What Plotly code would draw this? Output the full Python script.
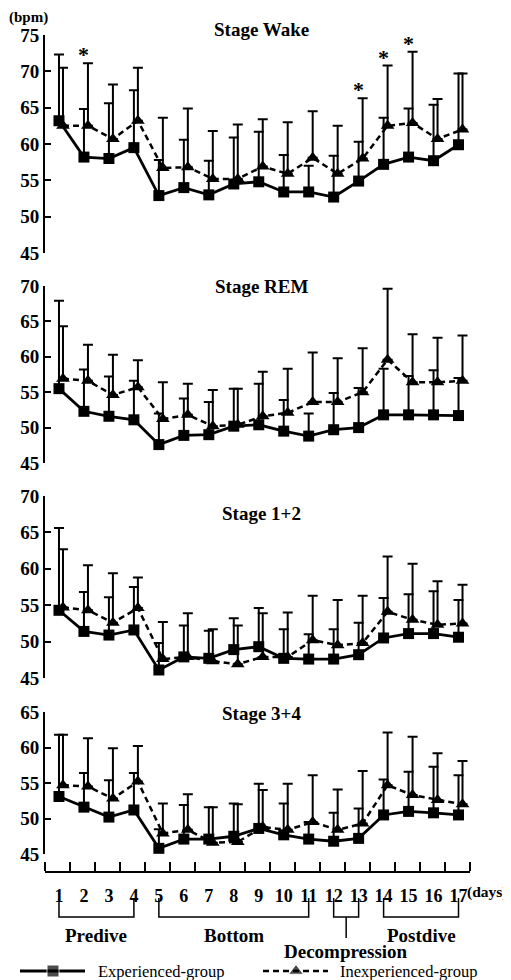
import plotly.graph_objects as go

# ---------------- data ----------------
days = list(range(1, 18))
stage_titles = ["Stage Wake", "Stage REM", "Stage 1+2", "Stage 3+4"]

wake_exp = [63.2, 58.2, 58.0, 59.5, 52.9, 54.0, 53.0, 54.5, 54.8, 53.4, 53.4, 52.7, 54.9, 57.2, 58.2, 57.7, 59.9]
wake_exp_top = [72.3, 64.8, 65.6, 67.4, 57.8, 60.6, 57.7, 60.9, 61.7, 58.5, 57.0, 58.4, 60.3, 63.6, 64.9, 65.4, 69.7]
wake_inexp = [62.5, 62.5, 60.7, 63.2, 56.7, 56.8, 55.2, 55.2, 56.9, 55.9, 58.1, 55.9, 58.0, 62.5, 62.9, 60.7, 62.0]
wake_inexp_top = [70.5, 71.1, 68.2, 70.5, 63.6, 64.9, 61.8, 62.7, 63.4, 63.0, 64.5, 62.5, 66.3, 70.8, 72.7, 66.2, 69.7]

rem_exp = [55.5, 52.3, 51.6, 51.1, 47.6, 48.9, 49.0, 50.2, 50.4, 49.5, 48.8, 49.7, 50.0, 51.8, 51.8, 51.8, 51.7]
rem_exp_top = [67.9, 58.2, 57.2, 56.6, 52.0, 54.1, 53.6, 55.5, 56.2, 53.9, 52.0, 54.9, 55.6, 58.3, 57.3, 58.1, 57.0]
rem_inexp = [56.9, 56.6, 54.6, 55.7, 51.2, 51.8, 50.2, 50.4, 51.6, 52.1, 53.6, 53.6, 55.0, 59.6, 56.4, 56.4, 56.6]
rem_inexp_top = [64.3, 61.7, 60.3, 59.5, 56.4, 56.2, 55.3, 55.5, 57.9, 58.3, 60.6, 59.8, 61.2, 69.6, 63.2, 62.7, 63.0]

s12_exp = [54.3, 51.4, 50.9, 51.6, 46.1, 47.9, 47.7, 48.9, 49.3, 47.7, 47.6, 47.6, 48.2, 50.5, 51.1, 51.1, 50.6]
s12_exp_top = [65.6, 56.8, 56.1, 57.5, 49.8, 52.2, 51.5, 53.2, 54.6, 51.7, 51.0, 51.7, 52.6, 56.0, 56.5, 56.9, 55.7]
s12_inexp = [54.7, 54.3, 52.6, 54.6, 47.6, 47.9, 47.3, 46.9, 47.9, 47.9, 50.2, 49.5, 49.8, 54.1, 53.0, 52.3, 52.5]
s12_inexp_top = [62.7, 60.5, 59.4, 58.8, 52.7, 53.9, 51.7, 52.2, 53.9, 54.0, 56.3, 55.7, 56.3, 61.7, 60.7, 58.3, 57.8]

s34_exp = [53.1, 51.6, 50.2, 51.2, 45.8, 47.1, 47.1, 47.5, 48.6, 47.7, 47.1, 46.8, 47.2, 50.5, 51.0, 50.8, 50.5]
s34_exp_top = [61.8, 56.4, 55.4, 56.4, 48.5, 51.9, 51.6, 52.1, 54.9, 52.1, 49.5, 50.8, 51.4, 55.5, 56.6, 57.3, 56.1]
s34_inexp = [54.7, 54.5, 52.8, 55.2, 47.9, 48.4, 46.6, 46.7, 48.8, 48.4, 49.5, 48.4, 49.3, 54.7, 53.3, 52.6, 52.0]
s34_inexp_top = [61.8, 61.3, 59.9, 60.2, 52.1, 53.4, 51.6, 52.0, 54.0, 54.9, 56.1, 54.1, 56.7, 62.1, 61.5, 59.2, 58.1]

y_ranges = [(45, 75), (45, 70), (45, 70), (45, 65)]
sig_days_wake = [2, 13, 14, 15]

phase_names = ["Predive", "Bottom", "Decompression", "Postdive"]
phase_start = [1, 5, 12, 14]
phase_end = [4, 11, 13, 17]

group_names = ["Experienced-group", "Inexperienced-group"]

# ---------------- layout constants ----------------
PAGE_OFF = 8            # default page margin around the plot div
W, H = 511 - PAGE_OFF, 980 - PAGE_OFF
FONT = "Liberation Serif, Times New Roman, serif"


def py(px):
    return 1 - (px - PAGE_OFF) / H


def pxx(px):
    return (px - PAGE_OFF) / W


panel_px = [(35, 253), (286, 463), (496, 678), (712, 854)]
title_py = [30, 287, 513, 713]
x_dom = [pxx(45), pxx(470)]
x_range = [0.44, 17.46]
OFF = 0.16
AXIS_Y_PX = 872

panels = [
    (wake_exp, wake_exp_top, wake_inexp, wake_inexp_top),
    (rem_exp, rem_exp_top, rem_inexp, rem_inexp_top),
    (s12_exp, s12_exp_top, s12_inexp, s12_inexp_top),
    (s34_exp, s34_exp_top, s34_inexp, s34_inexp_top),
]

fig = go.Figure()
annotations = []
shapes = []

for i, (e, et, ie, it) in enumerate(panels):
    n = i + 1
    xa = "x" if n == 1 else f"x{n}"
    ya = "y" if n == 1 else f"y{n}"
    fig.add_trace(go.Scatter(
        x=days, y=e, xaxis=xa, yaxis=ya, mode="lines+markers",
        name=group_names[0],
        line=dict(color="black", width=2.8),
        marker=dict(symbol="square", size=11, color="black"),
        error_y=dict(type="data", symmetric=False,
                     array=[t - v for t, v in zip(et, e)],
                     arrayminus=[0] * len(e),
                     thickness=2, width=5, color="black"),
        cliponaxis=False,
    ))
    fig.add_trace(go.Scatter(
        x=[d + OFF for d in days], y=ie, xaxis=xa, yaxis=ya, mode="lines+markers",
        name=group_names[1],
        line=dict(color="black", width=2.5, dash="6px,4px"),
        marker=dict(symbol="triangle-up", size=12, color="black"),
        error_y=dict(type="data", symmetric=False,
                     array=[t - v for t, v in zip(it, ie)],
                     arrayminus=[0] * len(ie),
                     thickness=2, width=5, color="black"),
        cliponaxis=False,
    ))
    lo, hi = y_ranges[i]
    y0px, y1px = panel_px[i]
    yt = list(range(lo, hi + 1, 5))
    yaxis = dict(
        domain=[py(y1px), py(y0px)], range=[lo, hi], anchor=xa,
        showline=True, linewidth=2, linecolor="black",
        ticks="inside", ticklen=6, tickwidth=2, tickcolor="black",
        tickvals=yt, ticktext=[f"<b>{v}</b>" for v in yt],
        tickfont=dict(family=FONT, size=19, color="black"),
        showgrid=False, zeroline=False, fixedrange=True, automargin=False,
    )
    if n < 4:
        xaxis = dict(domain=x_dom, range=x_range, anchor=ya, visible=False, automargin=False)
    else:
        xaxis = dict(
            domain=x_dom, range=x_range, anchor="free", position=py(AXIS_Y_PX),
            showline=True, linewidth=2, linecolor="black",
            tickvals=days, ticktext=[f"<b>{d}</b>" for d in days], ticks="",
            ticklabelstandoff=7,
            tickfont=dict(family=FONT, size=18, color="black"),
            minor=dict(tickvals=[d - 0.55 for d in days] + [days[-1] + 0.45],
                       ticks="inside", ticklen=9, tickwidth=2, tickcolor="black"),
            showgrid=False, zeroline=False, automargin=False,
        )
    fig.update_layout(**{("xaxis" if n == 1 else f"xaxis{n}"): xaxis,
                         ("yaxis" if n == 1 else f"yaxis{n}"): yaxis})
    annotations.append(dict(
        text=f"<b>{stage_titles[i]}</b>", xref="paper", yref="paper",
        x=pxx(261), y=py(title_py[i]), xanchor="center", yanchor="middle",
        showarrow=False, font=dict(family=FONT, size=19, color="black")))

# significance stars (Wake panel)
for d in sig_days_wake:
    annotations.append(dict(
        text="<b>*</b>", xref="x", yref="y", x=d, y=wake_inexp_top[d - 1],
        xanchor="center", yanchor="bottom", yshift=-6, showarrow=False,
        font=dict(family=FONT, size=22, color="black")))

# unit label
annotations.append(dict(
    text="<b>(bpm)</b>", xref="paper", yref="paper", x=0, y=1,
    xanchor="left", yanchor="top", showarrow=False, borderpad=0,
    font=dict(family=FONT, size=15, color="black")))

# (days)
annotations.append(dict(
    text="<b>(days)</b>", xref="paper", yref="paper", x=pxx(509), y=py(892),
    xanchor="right", yanchor="middle", showarrow=False,
    font=dict(family=FONT, size=15.5, color="black")))

# phase brackets
BR_TOP, BR_BOT, STEM_BOT = py(898), py(917), py(938)
for name, s, e in zip(phase_names, phase_start, phase_end):
    shapes.append(dict(
        type="path", xref="x4", yref="paper",
        path=f"M {s},{BR_TOP} L {s},{BR_BOT} L {e},{BR_BOT} L {e},{BR_TOP}",
        line=dict(color="black", width=1.5)))
    mid = (s + e) / 2
    if name == "Decompression":
        shapes.append(dict(type="line", xref="x4", yref="paper",
                           x0=mid, x1=mid, y0=BR_BOT, y1=STEM_BOT,
                           line=dict(color="black", width=1.5)))
        ly = py(951)
    else:
        ly = py(935)
    annotations.append(dict(
        text=f"<b>{name}</b>", xref="x4", yref="paper", x=mid, y=ly,
        xanchor="center", yanchor="middle", showarrow=False,
        font=dict(family=FONT, size=19, color="black")))

# custom legend on a hidden pixel-scaled axis
LEG_Y = py(971)
fig.update_layout(
    xaxis5=dict(domain=[0, 1], range=[PAGE_OFF, PAGE_OFF + W], visible=False, anchor="y5", automargin=False),
    yaxis5=dict(domain=[0, 2 * LEG_Y], range=[-1, 1], visible=False, anchor="x5", automargin=False),
)
leg_spans = [(20, 53, 85), (263, 296, 328)]
leg_text_x = [96, 338]
leg_styles = [
    dict(line=dict(color="black", width=2.8), marker=dict(symbol="square", size=[0, 12, 0], color="black")),
    dict(line=dict(color="black", width=2.5, dash="6px,4px"), marker=dict(symbol="triangle-up", size=[0, 13, 0], color="black")),
]
for (a, m, b), tx, st, nm in zip(leg_spans, leg_text_x, leg_styles, group_names):
    fig.add_trace(go.Scatter(x=[a, m, b], y=[0, 0, 0], xaxis="x5", yaxis="y5",
                             mode="lines+markers", hoverinfo="skip", cliponaxis=False, **st))
    annotations.append(dict(
        text=nm, xref="paper", yref="paper", x=pxx(tx), y=LEG_Y,
        xanchor="left", yanchor="middle", showarrow=False,
        font=dict(family=FONT, size=16.5, color="black")))

fig.update_layout(
    template="none",
    width=W, height=H, margin=dict(l=0, r=0, t=0, b=0, pad=0, autoexpand=False),
    paper_bgcolor="white", plot_bgcolor="white", showlegend=False,
    annotations=annotations, shapes=shapes,
)

fig.write_html("out.html")
